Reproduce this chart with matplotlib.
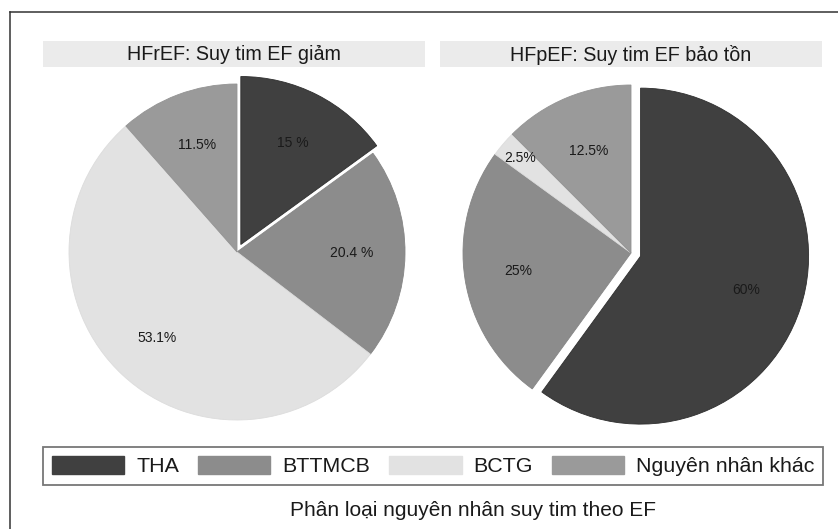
import numpy as np
import matplotlib
matplotlib.use("Agg")
import matplotlib.pyplot as plt
from matplotlib.patches import Patch
from matplotlib.lines import Line2D

plt.rcParams['font.family'] = ['Liberation Sans', 'DejaVu Sans']

# ---- data ----
categories = ["THA", "BTTMCB", "BCTG", "Nguyên nhân khác"]
panel_titles = ["HFrEF: Suy tim EF giảm", "HFpEF: Suy tim EF bảo tồn"]
hfref_values = [15.0, 20.4, 53.1, 11.5]
hfref_labels = ["15 %", "20.4 %", "53.1%", "11.5%"]
hfpef_values = [60.0, 25.0, 2.5, 12.5]
hfpef_labels = ["60%", "25%", "2.5%", "12.5%"]
caption = "Phân loại nguyên nhân suy tim theo EF"

# ---- style ----
colors = ["#404040", "#8c8c8c", "#e2e2e2", "#9a9a9a"]
edge_colors = ["#2e2e2e", "#858585", "#dcdcdc", "#939393"]
W, H = 838, 529
fig = plt.figure(figsize=(W / 100, H / 100), dpi=100)
fig.patch.set_facecolor("white")


def fx(px):
    return px / W


def fy(py):
    return 1 - py / H


# outer frame (top and left edges)
fig.add_artist(Line2D([fx(10), fx(10)], [fy(12), fy(H + 5)], color="#333333",
                      lw=1.1, transform=fig.transFigure))
fig.add_artist(Line2D([fx(10), fx(W + 5)], [fy(12), fy(12)], color="#333333",
                      lw=1.1, transform=fig.transFigure))

# title bars
title_boxes = [(43, 425), (440, 822)]
for (x0, x1), title in zip(title_boxes, panel_titles):
    tax = fig.add_axes([fx(x0), fy(67), fx(x1 - x0), (67 - 41) / H])
    tax.set_facecolor("#ebebeb")
    for s in tax.spines.values():
        s.set_visible(False)
    tax.set_xticks([])
    tax.set_yticks([])
    tax.text(0.5, 0.47, title, ha="center", va="center", fontsize=14.2,
             color="#1a1a1a", transform=tax.transAxes)

# pies
panels = [
    dict(values=hfref_values, labels=hfref_labels, center=(237, 252),
         explode=[0.05, 0, 0, 0], dist=[0.68, 0.68, 0.70, 0.68]),
    dict(values=hfpef_values, labels=hfpef_labels, center=(631, 253),
         explode=[0.06, 0, 0, 0], dist=[0.66, 0.68, 0.87, 0.66]),
]
R = 168
pad = 1.15
for p in panels:
    cx, cy = p["center"]
    half = R * pad
    ax = fig.add_axes([fx(cx - half), fy(cy + half), 2 * half / W, 2 * half / H])
    wedges, _ = ax.pie(p["values"], colors=colors, startangle=90,
                       counterclock=False, explode=p["explode"], radius=1,
                       wedgeprops=dict(linewidth=0.6))
    for w, ec in zip(wedges, edge_colors):
        w.set_edgecolor(ec)
    ax.set_xlim(-pad, pad)
    ax.set_ylim(-pad, pad)
    ax.set_aspect("equal", adjustable="box")
    ax.axis("off")
    for w, lab, d in zip(wedges, p["labels"], p["dist"]):
        th = np.radians((w.theta1 + w.theta2) / 2)
        x0, y0 = w.center
        ax.text(x0 + d * np.cos(th), y0 + d * np.sin(th), lab, ha="center",
                va="center", fontsize=10, color="#1a1a1a")

# legend spanning a fixed box
handles = [Patch(facecolor=c, edgecolor=c) for c in colors]
leg = fig.legend(handles, categories, loc="upper left", ncol=4, mode="expand",
                 bbox_to_anchor=(fx(43), fy(488), fx(823 - 43), 41 / H),
                 bbox_transform=fig.transFigure,
                 fontsize=15.4, frameon=True, fancybox=False,
                 handlelength=3.4, handleheight=0.93, handletextpad=0.55,
                 columnspacing=1.0, borderpad=0.4, borderaxespad=0)
leg.get_frame().set_edgecolor("#555555")
leg.get_frame().set_linewidth(1.3)
for t in leg.get_texts():
    t.set_color("#1a1a1a")

fig.text(fx(473), fy(510), caption, ha="center", va="center", fontsize=15,
         color="#1a1a1a")

fig.savefig("out.png", dpi=100, facecolor="white")
